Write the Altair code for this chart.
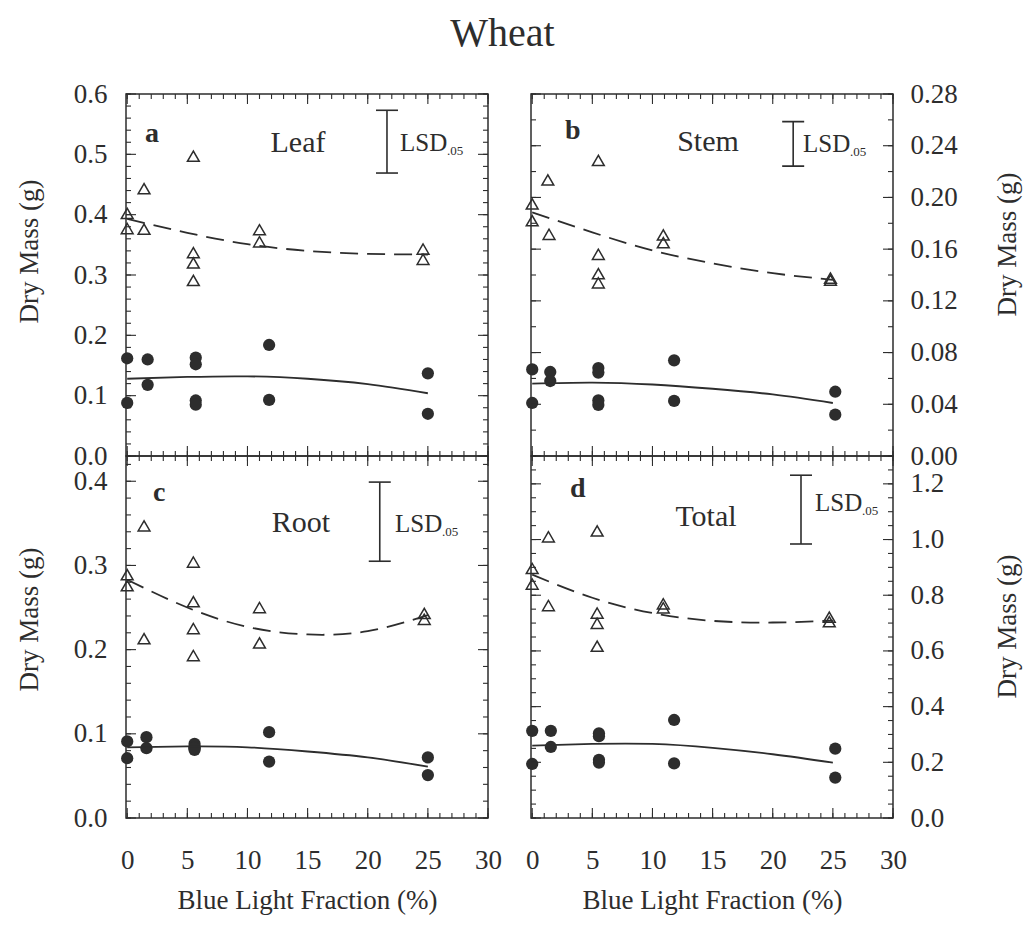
import altair as alt
import pandas as pd

FONT = "Liberation Serif"
INK = "#2d2d2d"
W, H = 362, 362

# ---------------- text ----------------
chart_title = "Wheat"
panel_letters = ["a", "b", "c", "d"]
panel_names = ["Leaf", "Stem", "Root", "Total"]
x_title = "Blue Light Fraction (%)"
y_title = "Dry Mass (g)"
lsd_main = "LSD"
lsd_sub = ".05"
x_tick_labels = [0, 5, 10, 15, 20, 25, 30]

# ---------------- data: open triangles ----------------
tri_x_a = [0, 0, 1.4, 1.4, 5.5, 5.5, 5.5, 5.5, 11, 11, 24.6, 24.6]
tri_y_a = [0.402, 0.377, 0.443, 0.376, 0.497, 0.337, 0.320, 0.291, 0.375, 0.355, 0.343, 0.326]
tri_x_b = [0, 0, 1.3, 1.4, 5.5, 5.5, 5.5, 5.5, 10.9, 10.9, 24.8, 24.8]
tri_y_b = [0.195, 0.182, 0.2135, 0.1715, 0.2286, 0.156, 0.141, 0.134, 0.171, 0.165, 0.1376, 0.136]
tri_x_c = [0, 0, 1.4, 1.4, 5.5, 5.5, 5.5, 5.5, 11, 11, 24.7, 24.7]
tri_y_c = [0.289, 0.276, 0.347, 0.213, 0.304, 0.257, 0.225, 0.193, 0.250, 0.208, 0.243, 0.236]
tri_x_d = [0, 0, 1.35, 1.35, 5.4, 5.4, 5.4, 5.4, 10.9, 10.9, 24.7, 24.7]
tri_y_d = [0.896, 0.840, 1.010, 0.763, 1.031, 0.736, 0.699, 0.617, 0.769, 0.755, 0.721, 0.705]

# ---------------- data: filled circles ----------------
circ_x_a = [0, 0, 1.7, 1.7, 5.7, 5.7, 5.7, 5.7, 11.8, 11.8, 25, 25]
circ_y_a = [0.162, 0.088, 0.160, 0.118, 0.163, 0.152, 0.092, 0.085, 0.184, 0.093, 0.137, 0.070]
circ_x_b = [0, 0, 1.5, 1.5, 5.5, 5.5, 5.5, 5.5, 11.8, 11.8, 25.2, 25.2]
circ_y_b = [0.067, 0.041, 0.065, 0.058, 0.068, 0.0645, 0.043, 0.0395, 0.074, 0.0426, 0.0497, 0.032]
circ_x_c = [0, 0, 1.6, 1.6, 5.6, 5.6, 5.6, 5.6, 11.8, 11.8, 25, 25]
circ_y_c = [0.091, 0.071, 0.096, 0.083, 0.088, 0.084, 0.081, 0.083, 0.102, 0.067, 0.072, 0.051]
circ_x_d = [0, 0, 1.55, 1.55, 5.55, 5.55, 5.55, 5.55, 11.8, 11.8, 25.2, 25.2]
circ_y_d = [0.313, 0.194, 0.313, 0.255, 0.304, 0.294, 0.209, 0.199, 0.352, 0.196, 0.249, 0.145]

# ---------------- data: fitted curves (read at these x) ----------------
curve_x = [0, 5, 10, 15, 20, 25]
dash_a = [0.393, 0.370, 0.351, 0.340, 0.335, 0.334]
solid_a = [0.128, 0.131, 0.132, 0.128, 0.119, 0.104]
dash_b = [0.1885, 0.173, 0.159, 0.149, 0.1414, 0.1363]
solid_b = [0.056, 0.0568, 0.0553, 0.052, 0.0476, 0.041]
dash_c = [0.283, 0.250, 0.227, 0.218, 0.222, 0.241]
solid_c = [0.084, 0.085, 0.084, 0.079, 0.072, 0.061]
dash_d = [0.874, 0.791, 0.736, 0.708, 0.702, 0.709]
solid_d = [0.260, 0.266, 0.266, 0.252, 0.229, 0.199]

# ---------------- LSD bars ----------------
lsd_x = [21.6, 21.7, 21.0, 22.35]
lsd_top = [0.573, 0.2586, 0.399, 1.231]
lsd_bottom = [0.469, 0.2242, 0.305, 0.984]

# ---------------- axes ----------------
y_domains = [[0, 0.6], [0, 0.28], [0, 0.43], [0, 1.3]]
y_label_values = [
    [0.0, 0.1, 0.2, 0.3, 0.4, 0.5, 0.6],
    [0.0, 0.04, 0.08, 0.12, 0.16, 0.20, 0.24, 0.28],
    [0.0, 0.1, 0.2, 0.3, 0.4],
    [0.0, 0.2, 0.4, 0.6, 0.8, 1.0, 1.2],
]
y_minor_step = [0.02, 0.02, 0.02, 0.05]
y_formats = [".1f", ".2f", ".1f", ".1f"]


def steps(lo, hi, step):
    out, k = [], 0
    while lo + k * step <= hi + 1e-9:
        out.append(round(lo + k * step, 4))
        k += 1
    return out


x_major = steps(0, 30, 5)
x_minor = steps(0, 30, 1)

# per-panel layout (pixels inside the panel)
side = ["left", "right", "left", "right"]
bottom_row = [False, False, True, True]
title_y = [157, 150, 163, 170]
letter_pos = [(19, 48), (34, 45), (27, 45), (39, 41)]
name_pos = [(172, 58), (177, 57), (175, 76), (175, 70)]
lsd_text_pos = [(274, 57), (272, 58), (269, 76), (284, 55)]

tri_x = [tri_x_a, tri_x_b, tri_x_c, tri_x_d]
tri_y = [tri_y_a, tri_y_b, tri_y_c, tri_y_d]
circ_x = [circ_x_a, circ_x_b, circ_x_c, circ_x_d]
circ_y = [circ_y_a, circ_y_b, circ_y_c, circ_y_d]
dash_y = [dash_a, dash_b, dash_c, dash_d]
solid_y = [solid_a, solid_b, solid_c, solid_d]


def make_panel(i):
    xs = alt.Scale(domain=[-0.1, 30], nice=False, zero=False)
    ys = alt.Scale(domain=y_domains[i], nice=False, zero=False)
    if bottom_row[i]:
        xaxis = alt.Axis(values=x_tick_labels, format="d", ticks=False, tickSize=0,
                         domain=False, grid=False, labelPadding=29, labelFlush=False,
                         labelOverlap=False, title=x_title,
                         titleY=90, titleBaseline="alphabetic")
    else:
        xaxis = None
    left = side[i] == "left"
    yaxis = alt.Axis(orient=side[i], values=y_label_values[i], format=y_formats[i],
                     ticks=False, tickSize=0, domain=False, grid=False,
                     labelPadding=19 if left else 17, labelFlush=False,
                     labelOverlap=False, title=y_title,
                     titleAngle=270, titleX=-89 if left else 122, titleY=title_y[i],
                     titleAlign="center", titleBaseline="alphabetic")

    def X(field):
        return alt.X(field, scale=xs, axis=xaxis)

    def Y(field):
        return alt.Y(field, scale=ys, axis=yaxis)

    layers = []
    tri_df = pd.DataFrame({"x": tri_x[i], "y": tri_y[i]})
    layers.append(alt.Chart(tri_df).mark_point(shape="triangle-up", filled=False, size=140,
                                               strokeWidth=1.5, color=INK, opacity=1).encode(
        x=X("x:Q"), y=Y("y:Q")))

    circ_df = pd.DataFrame({"x": circ_x[i], "y": circ_y[i]})
    layers.append(alt.Chart(circ_df).mark_circle(size=150, color=INK, opacity=1).encode(
        x=X("x:Q"), y=Y("y:Q")))

    dash_df = pd.DataFrame({"x": curve_x, "y": dash_y[i]})
    layers.append(alt.Chart(dash_df).mark_line(interpolate="natural", strokeDash=[18, 9],
                                               strokeWidth=1.8, color=INK).encode(
        x=X("x:Q"), y=Y("y:Q")))
    solid_df = pd.DataFrame({"x": curve_x, "y": solid_y[i]})
    layers.append(alt.Chart(solid_df).mark_line(interpolate="natural",
                                                strokeWidth=1.8, color=INK).encode(
        x=X("x:Q"), y=Y("y:Q")))

    # LSD bar
    lsd_df = pd.DataFrame({"x": [lsd_x[i]], "y": [lsd_top[i]], "bot": [lsd_bottom[i]]})
    layers.append(alt.Chart(lsd_df).mark_rule(color=INK, strokeWidth=1.6).encode(
        x=X("x:Q"), y=Y("y:Q"), y2="bot:Q"))
    cap_df = pd.DataFrame({"x": [lsd_x[i], lsd_x[i]], "y": [lsd_top[i], lsd_bottom[i]]})
    layers.append(alt.Chart(cap_df).mark_tick(orient="horizontal", size=22, thickness=1.6,
                                              color=INK, opacity=1).encode(
        x=X("x:Q"), y=Y("y:Q")))

    # inward ticks
    ymaj = y_label_values[i]
    ymin = steps(0, y_domains[i][1], y_minor_step[i])
    for vals, L in ((ymaj, 10), (ymin, 5)):
        tdf = pd.DataFrame({"y": vals})
        for x0, x1 in ((0, L), (W, W - L)):
            layers.append(alt.Chart(tdf).mark_rule(color=INK, strokeWidth=1.1).encode(
                y=Y("y:Q"), x=alt.value(x0), x2=alt.value(x1)))
    for vals, L in ((x_major, 10), (x_minor, 5)):
        tdf = pd.DataFrame({"x": vals})
        for y0, y1 in ((0, L), (H, H - L)):
            layers.append(alt.Chart(tdf).mark_rule(color=INK, strokeWidth=1.1).encode(
                x=X("x:Q"), y=alt.value(y0), y2=alt.value(y1)))

    # annotations
    layers.append(alt.Chart(pd.DataFrame({"t": [panel_letters[i]]})).mark_text(
        font=FONT, fontSize=28, fontWeight="bold", align="left", baseline="alphabetic",
        color=INK).encode(x=alt.value(letter_pos[i][0]), y=alt.value(letter_pos[i][1]),
                          text="t:N"))
    layers.append(alt.Chart(pd.DataFrame({"t": [panel_names[i]]})).mark_text(
        font=FONT, fontSize=30, align="center", baseline="alphabetic",
        color=INK).encode(x=alt.value(name_pos[i][0]), y=alt.value(name_pos[i][1]),
                          text="t:N"))
    lx, ly = lsd_text_pos[i]
    layers.append(alt.Chart(pd.DataFrame({"t": [lsd_main]})).mark_text(
        font=FONT, fontSize=25, align="left", baseline="alphabetic",
        color=INK).encode(x=alt.value(lx), y=alt.value(ly), text="t:N"))
    layers.append(alt.Chart(pd.DataFrame({"t": [lsd_sub]})).mark_text(
        font=FONT, fontSize=13, align="left", baseline="alphabetic",
        color=INK).encode(x=alt.value(lx + 47), y=alt.value(ly + 4), text="t:N"))

    return alt.layer(*layers).properties(width=W, height=H)


panels = [make_panel(i) for i in range(4)]

chart = alt.concat(
    *panels, columns=2, spacing={"row": 0, "column": 43}, bounds="flush",
    title=alt.TitleParams(chart_title, font=FONT, fontSize=40, fontWeight="normal",
                          color=INK, anchor="middle", baseline="alphabetic", offset=-7,
                          dx=-15),
    padding={"left": 14, "top": 14, "right": 5, "bottom": 5},
    background="white",
).configure_view(stroke=INK, strokeWidth=1.5).configure_axis(
    labelFont=FONT, labelFontSize=27, labelColor=INK,
    titleFont=FONT, titleFontSize=27, titleFontWeight="normal", titleColor=INK,
)

chart.save("out.html", embed_options={"renderer": "svg", "actions": False})
